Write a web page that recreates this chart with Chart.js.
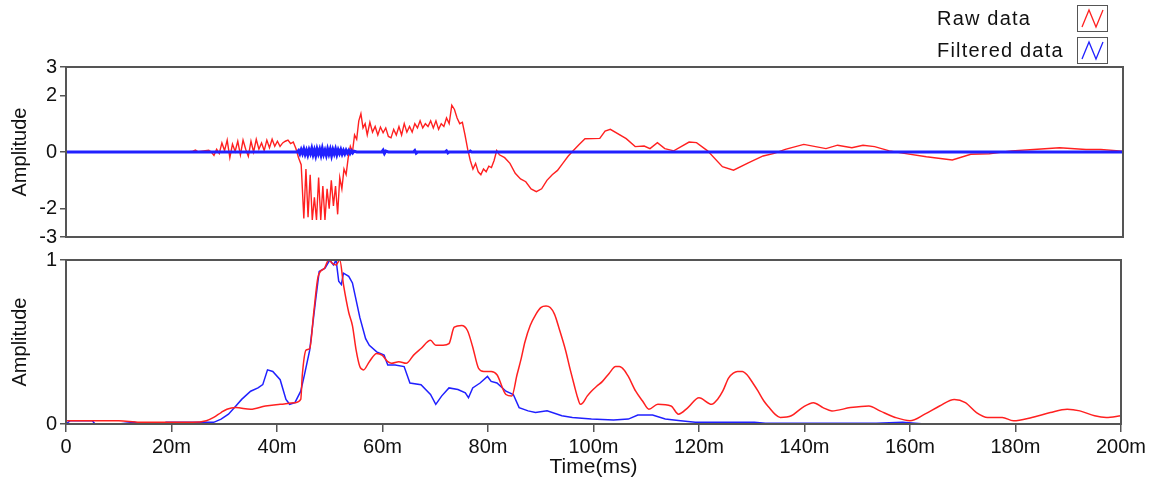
<!DOCTYPE html>
<html><head><meta charset="utf-8">
<script src="https://cdn.jsdelivr.net/npm/chart.js@4"></script>
<style>
body{margin:0;background:#fff;width:1153px;height:483px;overflow:hidden;position:relative;font-family:'Liberation Sans',Arial,sans-serif}
canvas{position:absolute;left:0;top:0}
.lg{position:absolute;left:937px;font-size:20px;letter-spacing:1.2px;color:#111;line-height:24px;white-space:nowrap}
.box{position:absolute;left:1077px;width:29px;height:25px;border:1.5px solid #555;background:#fff}
.box svg{position:absolute;left:0;top:0}
</style></head><body>
<canvas id="topc" width="1153" height="483"></canvas>
<canvas id="botc" width="1153" height="483"></canvas>
<div class="lg" style="top:6px">Raw data</div>
<div class="box" style="top:5px"><svg width="29" height="25"><polyline points="4,21 11,4 18,21 25,4" fill="none" stroke="#ff2020" stroke-width="1.3"/></svg></div>
<div class="lg" style="top:38px">Filtered data</div>
<div class="box" style="top:37px"><svg width="29" height="25"><polyline points="4,21 11,4 18,21 25,4" fill="none" stroke="#2020ff" stroke-width="1.3"/></svg></div>
<script>
// ---------- data ----------
const seriesNames = ['Raw data', 'Filtered data'];
const xTickValues = [0,20,40,60,80,100,120,140,160,180,200];
const xTickLabels = ['0','20m','40m','60m','80m','100m','120m','140m','160m','180m','200m'];
const topYTicks = [3,2,0,-2,-3];
const botYTicks = [1,0];

// top panel: raw signal (time ms, amplitude)
const rawTopT = [0,4,8,12,16,20,23,24,24.5,25,26,27,27.5,28,28.5,29,29.5,30,30.5,31,31.5,32,32.5,33,33.5,34,34.5,35,35.5,36,36.5,37,37.5,38,38.5,39,39.5,40,40.5,41,41.5,42,42.5,43,43.5,44,44.5,45,45.4,45.8,46.2,46.6,47,47.4,47.8,48.2,48.6,49,49.4,49.8,50.2,50.6,51,51.4,51.8,52.2,52.6,53,53.4,53.8,54.2,54.6,55,55.4,55.8,56.2,56.6,57,57.5,58,58.5,59,59.5,60,60.5,61,61.5,62,62.5,63,63.5,64,64.5,65,65.5,66,66.5,67,67.5,68,68.5,69,69.5,70,70.5,71,71.5,72,72.5,73,73.5,74,74.5,75,75.5,76,76.5,77,77.5,78,78.5,79,79.5,80,80.5,81,81.5,82,83,84,85,86,87,88,89,90,91,92,93,94,95,96,97,98.2,101,102,103,106,107.7,109.4,110.5,111.9,113.3,115,117.9,119.3,121.4,124.2,126.3,129.1,131.9,134,136.1,139.6,143.8,146,148.7,150.8,153,155.8,158.6,162.8,167.7,171.2,174.7,178.9,183.1,188,193,195.8,199.3,200];
const rawTopV = [0,0.01,0,0.01,0,0.01,0,0.03,0.07,0.01,0.04,0.06,0,-0.12,0.1,-0.05,0.32,0.05,0.42,-0.2,0.28,0.02,0.38,-0.1,0.42,0.1,-0.15,0.38,0,0.45,0.1,0.32,0.05,0.42,0.15,0.45,0.2,0.38,0.2,0.32,0.38,0.42,0.3,0.35,0.12,-0.2,-0.45,-2.35,-0.6,-2.3,-0.8,-2.4,-1.6,-2.4,-0.9,-2.4,-1.2,-2.4,-1.3,-2.0,-1.0,-1.9,-1.2,-2.2,-0.9,-1.3,-0.6,-0.8,-0.2,0.2,0,0.6,0.45,1.1,1.35,0.85,1.0,0.6,1.05,0.7,0.9,0.6,0.88,0.68,0.85,0.55,0.5,0.8,0.6,0.9,0.6,1.0,0.7,0.9,0.7,1.0,0.85,1.1,0.85,1.0,0.9,1.1,0.85,1.1,0.8,1.0,0.9,1.2,1.0,1.65,1.5,1.2,1.0,1.05,0.6,0.1,-0.3,-0.6,-0.4,-0.7,-0.8,-0.6,-0.7,-0.5,-0.55,-0.3,0.05,-0.1,-0.2,-0.4,-0.75,-0.95,-1.05,-1.3,-1.4,-1.3,-1.0,-0.8,-0.65,-0.4,-0.15,0.05,0.25,0.47,0.48,0.74,0.8,0.47,0.19,0.21,0.12,0.33,0.12,0.04,0.35,0.33,0.04,-0.52,-0.64,-0.38,-0.14,-0.05,0.09,0.27,0.12,0.24,0.15,0.24,0.19,0.04,-0.05,-0.17,-0.28,-0.08,-0.06,0.04,0.09,0.15,0.09,0.09,0.04,0.03];

// top panel: filtered signal
const filtTopT = [0,43.75,44,44.25,44.5,44.75,45,45.25,45.5,45.75,46,46.25,46.5,46.75,47,47.25,47.5,47.75,48,48.25,48.5,48.75,49,49.25,49.5,49.75,50,50.25,50.5,50.75,51,51.25,51.5,51.75,52,52.25,52.5,52.75,53,53.25,53.5,53.75,54,54.25,54.5,55,59.75,60,60.25,60.5,61,65.75,66,66.25,66.5,71.75,72,72.25,72.5,76.25,76.5,76.75,200];
const filtTopV = [0,0,0.05,-0.06,0.08,-0.05,0.1,-0.08,0.06,-0.1,0.08,-0.05,0.12,-0.09,0.07,-0.12,0.1,-0.06,0.09,-0.1,0.12,-0.08,0.06,-0.11,0.1,-0.07,0.09,-0.12,0.08,-0.06,0.1,-0.09,0.07,-0.05,0.08,-0.07,0.05,-0.06,0.06,-0.04,0.05,-0.05,0.04,-0.03,0.03,0,0,0.06,-0.05,0.03,0,0,0.05,-0.04,0,0,0.04,-0.03,0,0,0.03,0,0];

// bottom panel: raw envelope
const rawBotT = [0,2,6,10,14,18,22,24,26.6,28,29.4,30.5,32.2,35,37.8,40.6,43.4,44.5,44.8,45.5,46.2,47,47.8,49,49.8,50.5,51.2,51.9,52.6,53.6,54.3,55,55.7,56.4,57.5,58.9,59.9,61,61.7,63.1,64.5,65.9,67.3,69.1,70.1,71.5,72.6,73.6,75,76.1,77.1,78.2,79.2,80.6,81.7,83.4,84.5,85.5,86.3,87,88,89.1,90,91,91.8,92.6,93.6,94.7,95.6,96.4,97,97.5,98,98.8,99.6,100.6,101.7,103,104.2,104.9,105.8,106.6,108,109.3,110.5,112.2,114.7,116.1,117.9,120,122.4,123.5,124.5,125.6,126.5,127.3,128.2,129.1,130.2,131.2,132.3,133.3,134.4,135.4,137.5,139.6,141.7,143.5,145.2,148.7,152.2,154.3,157.2,160,162.8,165.6,168.4,170.5,172.6,174.7,177.5,179.6,183.1,186.6,189.8,192.2,195,197.2,200];
const rawBotV = [0.02,0.02,0.02,0.02,0.01,0.01,0.01,0.01,0.02,0.04,0.07,0.09,0.1,0.09,0.11,0.12,0.13,0.15,0.3,0.45,0.46,0.69,0.9,0.95,1.0,0.98,0.97,1.0,0.85,0.68,0.6,0.45,0.35,0.33,0.38,0.43,0.42,0.38,0.37,0.38,0.37,0.42,0.46,0.51,0.48,0.48,0.49,0.59,0.6,0.57,0.47,0.34,0.32,0.32,0.3,0.18,0.17,0.3,0.4,0.5,0.6,0.67,0.71,0.72,0.71,0.67,0.57,0.45,0.33,0.23,0.16,0.12,0.13,0.17,0.2,0.23,0.26,0.31,0.35,0.35,0.33,0.29,0.2,0.14,0.09,0.12,0.11,0.06,0.1,0.16,0.12,0.15,0.2,0.28,0.31,0.32,0.32,0.3,0.25,0.2,0.14,0.1,0.06,0.04,0.05,0.1,0.13,0.1,0.08,0.1,0.11,0.08,0.04,0.02,0.06,0.11,0.15,0.13,0.07,0.04,0.04,0.02,0.04,0.07,0.09,0.08,0.05,0.04,0.05];

// bottom panel: filtered envelope
const filtBotT = [0,0.8,5,5.5,10,13,14,18,19,22,26,28,29.4,30.8,32.2,33.3,35,36.4,37.3,38.2,39.2,40.6,41.7,42.4,43.4,44.5,45.2,46.2,47.3,48,49.1,50,50.7,51.2,51.7,52.2,52.6,53.6,54.3,55.7,56.8,57.5,58.9,60.3,61,62.4,64.1,65.2,67.3,69.1,70.1,71.2,72.6,74.3,75.7,76.3,77.1,78.5,79.9,80.6,81.7,83.4,84.8,85.9,87.6,89,91.2,94,96,99.6,103.8,106.6,108.4,111.2,113.6,116.5,119.3,130.5,132.6,153.6,158.6,162.8,200];
const filtBotV = [0,0.02,0.02,0,0,0.01,0,0,0.01,0.01,0.01,0.01,0.03,0.06,0.11,0.15,0.2,0.22,0.24,0.33,0.32,0.27,0.15,0.12,0.13,0.2,0.3,0.45,0.75,0.93,0.95,1.0,0.97,1.0,0.87,0.85,0.92,0.9,0.86,0.65,0.52,0.48,0.44,0.42,0.36,0.36,0.35,0.25,0.24,0.18,0.12,0.17,0.22,0.21,0.19,0.16,0.22,0.25,0.29,0.26,0.25,0.2,0.18,0.1,0.08,0.07,0.08,0.05,0.04,0.03,0.025,0.03,0.055,0.055,0.03,0.02,0.01,0.01,0.005,0.005,0.01,0,0];

// ---------- rendering ----------
const RED = '#ff2020', BLUE = '#2020ff', FRAME = '#555';
const pts = (t, v) => t.map((x, i) => ({x, y: v[i]}));
const tickFont = {family: "'Liberation Sans', Arial, sans-serif", size: 20};
const titleFont = {family: "'Liberation Sans', Arial, sans-serif", size: 20};

const framePlugin = {
  id: 'frame',
  afterDatasetsDraw(c) {
    const a = c.chartArea, ctx = c.ctx;
    ctx.save();
    ctx.strokeStyle = FRAME; ctx.lineWidth = 2;
    ctx.strokeRect(a.left, a.top, a.right - a.left, a.bottom - a.top);
    ctx.restore();
  }
};

function yAxis(min, max, ticks) {
  return {
    min, max,
    afterBuildTicks: s => { s.ticks = ticks.map(v => ({value: v})); },
    afterFit: s => { s.width = 66; },
    grid: {drawOnChartArea: false, tickLength: 6, color: FRAME, lineWidth: 1.5},
    border: {display: false},
    ticks: {font: tickFont, color: '#111', padding: 3},
    title: {display: true, text: 'Amplitude', font: titleFont, color: '#111', padding: {top: 8, bottom: 0}}
  };
}

const common = {
  responsive: false, animation: false, devicePixelRatio: 1,
  plugins: {legend: {display: false}, tooltip: {enabled: false}},
  elements: {point: {radius: 0}, line: {tension: 0}}
};

new Chart(document.getElementById('topc'), {
  type: 'line',
  data: {datasets: [
    {label: seriesNames[0], data: pts(rawTopT, rawTopV), borderColor: RED, borderWidth: 1.4, order: 2},
    {label: seriesNames[1], data: pts(filtTopT, filtTopV), borderColor: BLUE, borderWidth: 3, order: 1}
  ]},
  options: Object.assign({}, common, {
    layout: {padding: {left: 0, top: 67, right: 30, bottom: 246}},
    scales: {
      x: {type: 'linear', min: 0, max: 200, display: false},
      y: yAxis(-3, 3, topYTicks)
    }
  }),
  plugins: [framePlugin]
});

new Chart(document.getElementById('botc'), {
  type: 'line',
  data: {datasets: [
    {label: seriesNames[0], data: pts(rawBotT, rawBotV), borderColor: RED, borderWidth: 1.5, order: 1, cubicInterpolationMode: 'monotone'},
    {label: seriesNames[1], data: pts(filtBotT, filtBotV), borderColor: BLUE, borderWidth: 1.5, order: 2}
  ]},
  options: Object.assign({}, common, {
    layout: {padding: {left: 0, top: 260, right: 32, bottom: 3}},
    scales: {
      x: {
        type: 'linear', min: 0, max: 200,
        afterBuildTicks: s => { s.ticks = xTickValues.map(v => ({value: v})); },
        afterFit: s => { s.height = 56; },
        grid: {drawOnChartArea: false, tickLength: 8, color: FRAME, lineWidth: 1.5},
        border: {display: false},
        ticks: {font: tickFont, color: '#111', padding: 3, maxRotation: 0, autoSkip: false,
                callback: (v, i) => xTickLabels[i]},
        title: {display: true, text: 'Time(ms)', font: {family: tickFont.family, size: 21}, color: '#111', padding: {top: 0, bottom: 0}}
      },
      y: yAxis(0, 1, botYTicks)
    }
  }),
  plugins: [framePlugin]
});
</script>
</body></html>
